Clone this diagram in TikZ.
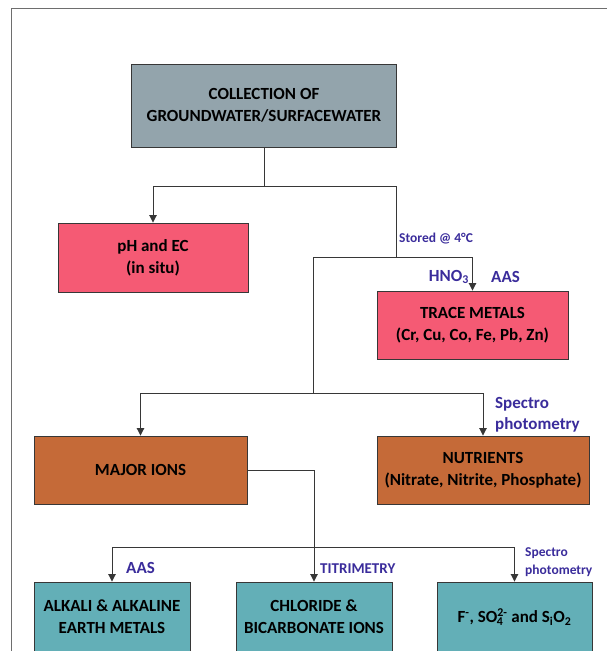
\documentclass[tikz,border=0pt]{standalone}
\usepackage{fontspec}
\setmainfont{Carlito}
\usetikzlibrary{arrows.meta}
\definecolor{greybox}{RGB}{147,164,172}
\definecolor{pinkbox}{RGB}{245,90,116}
\definecolor{orangebox}{RGB}{197,106,56}
\definecolor{tealbox}{RGB}{99,175,183}
\definecolor{methodblue}{RGB}{58,44,155}
\definecolor{linegrey}{RGB}{55,55,55}
\definecolor{framegrey}{RGB}{110,110,110}
\newcommand{\ionsupsub}[2]{\textsuperscript{#1}\llap{\textsubscript{#2}\hphantom{\textsuperscript{-}}}}
\begin{document}
\begin{tikzpicture}[x=1pt,y=-1pt,
    box/.style={draw=linegrey, line width=0.9pt, align=center, inner sep=0pt,
        font=\bfseries\fontsize{17}{22}\selectfont},
    link/.style={draw=linegrey, line width=0.9pt},
    arr/.style={link, -{Triangle[length=7.5pt,width=7.5pt]}},
    method/.style={text=methodblue, inner sep=0pt, align=left,
        font=\bfseries\fontsize{17}{21}\selectfont},
    smallmethod/.style={method, font=\bfseries\fontsize{13.5}{18}\selectfont}]
    \clip (0,0) rectangle (607,651);
    % Рамка
    \draw[framegrey, line width=1pt] (607,8) -- (11,8) -- (11,660);

    % Блоки
    \node[box, fill=greybox, minimum width=265pt, minimum height=83pt] (coll) at (264,105.5) {COLLECTION OF\\GROUNDWATER/SURFACEWATER};
    \node[box, fill=pinkbox, minimum width=190pt, minimum height=69pt] (ph) at (153,257.5) {pH and EC\\(in situ)};
    \node[box, fill=pinkbox, minimum width=191pt, minimum height=68pt] (trace) at (472.5,325) {TRACE METALS\\(Cr, Cu, Co, Fe, Pb, Zn)};
    \node[box, fill=orangebox, minimum width=213pt, minimum height=68pt] (major) at (140.5,470) {MAJOR IONS};
    \node[box, fill=orangebox, minimum width=212pt, minimum height=68pt] (nutr) at (483,470) {NUTRIENTS\\(Nitrate, Nitrite, Phosphate)};
    \node[box, fill=tealbox, minimum width=156pt, minimum height=70pt] (alkali) at (112,617) {ALKALI \& ALKALINE\\EARTH METALS};
    \node[box, fill=tealbox, minimum width=156pt, minimum height=70pt] (chlor) at (314,617) {CHLORIDE \&\\BICARBONATE IONS};
    \node[box, fill=tealbox, minimum width=155pt, minimum height=70pt] (anion) at (514.5,617) {F\textsuperscript{-}, SO\ionsupsub{2-}{4} and S\textsubscript{i}O\textsubscript{2}};

    % Развилки
    \coordinate (fork1) at (264,186.5);
    \coordinate (stored) at (396,257.5);
    \coordinate (fork2) at (313,257.5);
    \coordinate (fork3) at (313,393);
    \coordinate (fork4) at (314,547);

    % Соединения
    \draw[link] (coll.south) -- (fork1);
    \draw[arr] (fork1) -| (ph.north);
    \draw[link] (fork1) -| (stored);
    \draw[arr] (fork2) -| (trace.north);
    \draw[link] (fork2) -- (fork3);
    \draw[arr] (fork3) -| (major.north);
    \draw[arr] (fork3) -| (nutr.north);
    \draw[arr] (major.east) -| (chlor.north);
    \draw[arr] (fork4) -| (alkali.north);
    \draw[arr] (fork4) -| (anion.north);

    % Методы
    \node[smallmethod, anchor=west] (storedlbl) at (399,238.5) {Stored @ 4°C};
    \node[method, anchor=east] (acidlbl) at (469,277) {HNO\textsubscript{3}};
    \node[method, anchor=west] (aastrace) at (491,277) {AAS};
    \node[method, anchor=west] (specnutr) at (495,415) {Spectro\\photometry};
    \node[method, anchor=west] (aasalkali) at (126,568) {AAS};
    \node[method, anchor=west, font=\bfseries\fontsize{15}{18}\selectfont] (titrlbl) at (320,569) {TITRIMETRY};
    \node[smallmethod, anchor=west] (specanion) at (525,562) {Spectro\\photometry};
\end{tikzpicture}
\end{document}
